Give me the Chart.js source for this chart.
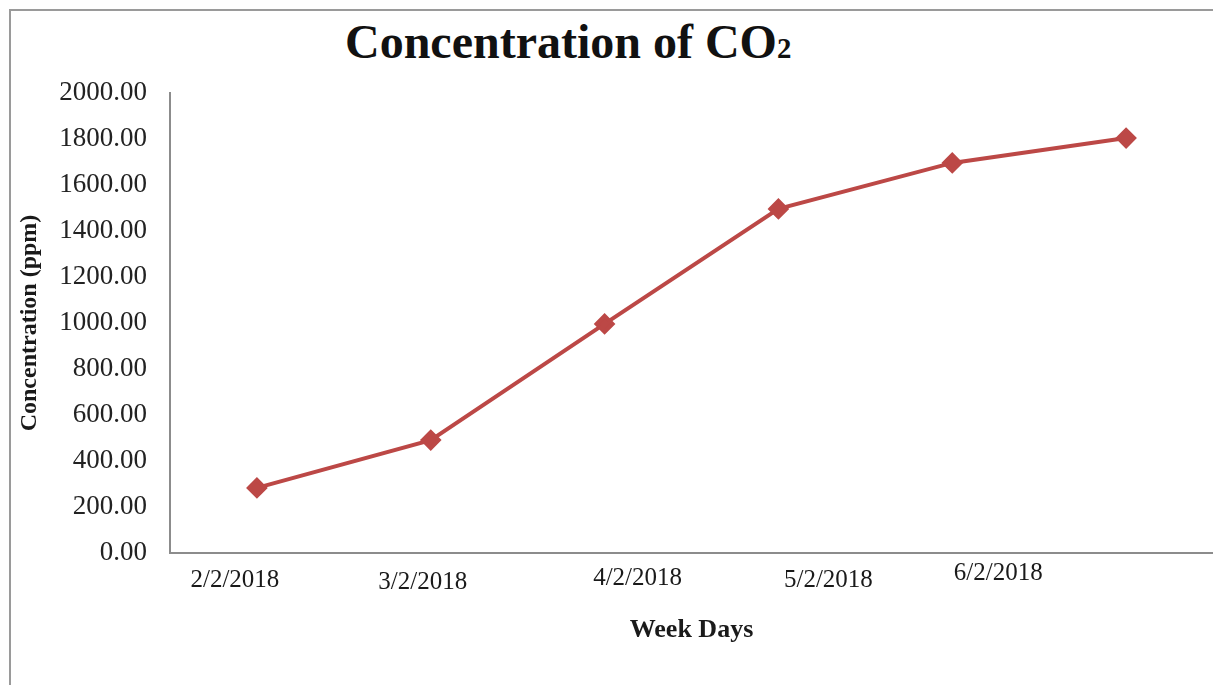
<!DOCTYPE html>
<html>
<head>
<meta charset="utf-8">
<title>Concentration of CO2</title>
<script src="https://cdn.jsdelivr.net/npm/chart.js@4.4.1/dist/chart.umd.min.js"></script>
<style>
  body { margin: 0; background: #fff; overflow: hidden; }
  .frame {
    position: absolute; left: 9px; top: 9px; width: 1300px; height: 800px;
    border-top: 2px solid #9a9a9a; border-left: 2px solid #9a9a9a;
  }
  .heading {
    position: absolute; left: 345px; top: 18px; margin: 0;
    font: bold 48px "Liberation Serif", serif; line-height: 48px; color: #111;
    white-space: nowrap;
  }
  .heading span { font-size: 60%; }
  .chart-box { position: absolute; left: 0; top: 0; width: 1213px; height: 685px; }
</style>
</head>
<body>
<div class="frame"></div>
<h1 class="heading">Concentration of CO<span>2</span></h1>
<div class="chart-box"><canvas id="myChart"></canvas></div>
<script>
// weekly readings, ppm
let weekDays = ['2/2/2018', '3/2/2018', '4/2/2018', '5/2/2018', '6/2/2018', ''];
let co2Ppm = [283, 491, 996, 1496, 1696, 1804];
let yTicks = [0, 200, 400, 600, 800, 1000, 1200, 1400, 1600, 1800, 2000];

const lineRed = '#bc4846';
const axisGrey = '#8c8c8c';
const serif = '"Liberation Serif", "Times New Roman", serif';

// the date labels sit a little off their points, so they get drawn by hand
const labelShift = [[-22, 27], [-8, 29], [33, 25], [50, 27], [46, 20]];

const dateLabels = {
  id: 'dateLabels',
  afterDraw(chart) {
    const ctx = chart.ctx;
    const xs = chart.scales.x;
    ctx.save();
    ctx.font = `25px ${serif}`;
    ctx.fillStyle = '#1a1a1a';
    ctx.textAlign = 'center';
    ctx.textBaseline = 'middle';
    weekDays.forEach((label, i) => {
      if (!label) return;
      const [dx, dy] = labelShift[i];
      ctx.fillText(label, xs.getPixelForValue(i) + dx, xs.top + dy);
    });
    ctx.restore();
  },
};

function renderChart() {
  const ctx = document.getElementById('myChart');

  new Chart(ctx, {
    type: 'line',
    data: {
      labels: weekDays,
      datasets: [
        {
          label: 'CO2',
          data: co2Ppm,
          borderColor: lineRed,
          backgroundColor: lineRed,
          borderWidth: 4,
          pointStyle: 'rectRot',
          pointRadius: 8,
          pointBackgroundColor: lineRed,
          pointBorderColor: lineRed,
          tension: 0,
          clip: false,
        },
      ],
    },
    options: {
      responsive: true,
      maintainAspectRatio: false,
      animation: false,
      layout: {
        autoPadding: false,
        padding: { top: 93, right: 0, bottom: 0, left: 0 },
      },
      plugins: {
        legend: { display: false },
        tooltip: { enabled: false },
      },
      scales: {
        x: {
          type: 'category',
          offset: true,
          grid: { display: false },
          border: { display: true, color: axisGrey, width: 2 },
          ticks: { display: false },
          title: {
            display: true,
            text: 'Week Days',
            color: '#1a1a1a',
            font: { family: serif, size: 26, weight: 'bold' },
            padding: { top: 0, bottom: 39 },
          },
          afterFit(scale) {
            scale.height = 132;
          },
        },
        y: {
          min: 0,
          max: 2000,
          grid: { display: false, drawTicks: false },
          border: { display: true, color: axisGrey, width: 2 },
          afterBuildTicks(scale) {
            scale.ticks = yTicks.map((v) => ({ value: v }));
          },
          ticks: {
            padding: 23,
            color: '#222',
            font: { family: serif, size: 27 },
            callback: (v) => Number(v).toFixed(2),
          },
          title: {
            display: true,
            text: 'Concentration (ppm)',
            color: '#1a1a1a',
            font: { family: serif, size: 24, weight: 'bold' },
            padding: { top: 15, bottom: 0 },
          },
          afterFit(scale) {
            scale.width = 170;
          },
        },
      },
    },
    plugins: [dateLabels],
  });
}

renderChart();
</script>
</body>
</html>
